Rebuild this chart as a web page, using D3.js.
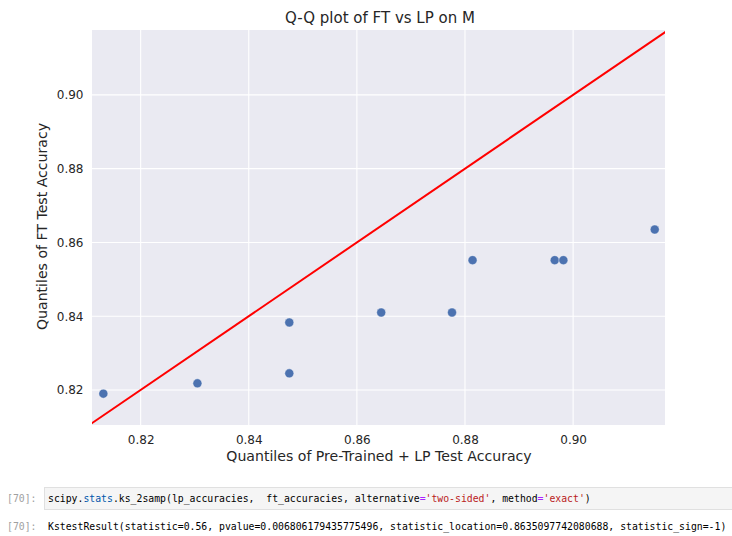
<!DOCTYPE html>
<html>
<head>
<meta charset="utf-8">
<script src="https://cdn.jsdelivr.net/npm/d3@7"></script>
<style>
  html, body { margin: 0; padding: 0; background: #fff; }
  svg { display: block; }
  text { white-space: pre; }
</style>
</head>
<body>
<svg id="chart" width="732" height="536"></svg>
<script>
// ---- data ----
const lpQuantiles = [0.8131, 0.8305, 0.8475, 0.8475, 0.8645, 0.8776, 0.8814, 0.8966, 0.8982, 0.9151];
const ftQuantiles = [0.8190, 0.8218, 0.8245, 0.8383, 0.8410, 0.8410, 0.8552, 0.8552, 0.8552, 0.8635];
const xTicks = [0.82, 0.84, 0.86, 0.88, 0.90];
const yTicks = [0.82, 0.84, 0.86, 0.88, 0.90];
const xDomain = [0.8110, 0.9170];
const yDomain = [0.8105, 0.9176];
const titleText = "Q-Q plot of FT vs LP on M";
const xLabel = "Quantiles of Pre-Trained + LP Test Accuracy";
const yLabel = "Quantiles of FT Test Accuracy";
const promptText = "[70]:";
const codeTokens = [
  ["scipy", "#000"], [".", "#000"], ["stats", "#0055aa"], [".ks_2samp(lp_accuracies,  ft_accuracies, alternative", "#000"],
  ["=", "#aa22ff"], ["'two-sided'", "#ba2121"], [", method", "#000"], ["=", "#aa22ff"], ["'exact'", "#ba2121"], [")", "#000"]
];
const outputText = "KstestResult(statistic=0.56, pvalue=0.006806179435775496, statistic_location=0.8635097742080688, statistic_sign=-1)";

// ---- layout ----
const svg = d3.select("#chart");
const L = 92, R = 665, T = 30, B = 425;
const x = d3.scaleLinear().domain(xDomain).range([L, R]);
const y = d3.scaleLinear().domain(yDomain).range([B, T]);
const font = "DejaVu Sans, sans-serif";
const textColor = "#262626";

svg.append("rect").attr("x", L).attr("y", T).attr("width", R - L).attr("height", B - T).attr("fill", "#eaeaf2");

// grid
svg.append("g").selectAll("line").data(xTicks).join("line")
  .attr("x1", d => x(d)).attr("x2", d => x(d)).attr("y1", T).attr("y2", B)
  .attr("stroke", "#fff").attr("stroke-width", 1.1);
svg.append("g").selectAll("line").data(yTicks).join("line")
  .attr("y1", d => y(d)).attr("y2", d => y(d)).attr("x1", L).attr("x2", R)
  .attr("stroke", "#fff").attr("stroke-width", 1.1);

// axes (labels only)
const xAxis = d3.axisBottom(x).tickValues(xTicks).tickFormat(d3.format(".2f")).tickSize(0).tickPadding(10);
const gx = svg.append("g").attr("transform", `translate(0,${B})`).call(xAxis);
gx.select(".domain").remove();
gx.selectAll("text").attr("font-family", font).attr("font-size", 12).attr("fill", textColor);

const yAxis = d3.axisLeft(y).tickValues(yTicks).tickFormat(d3.format(".2f")).tickSize(0).tickPadding(8.5);
const gy = svg.append("g").attr("transform", `translate(${L},0)`).call(yAxis);
gy.select(".domain").remove();
gy.selectAll("text").attr("font-family", font).attr("font-size", 12).attr("fill", textColor);

// clip
svg.append("clipPath").attr("id", "clip").append("rect")
  .attr("x", L).attr("y", T).attr("width", R - L).attr("height", B - T);

// 45-degree reference line
const lo = Math.min(xDomain[0], yDomain[0]), hi = Math.max(xDomain[1], yDomain[1]);
svg.append("line").attr("clip-path", "url(#clip)")
  .attr("x1", x(lo)).attr("y1", y(lo)).attr("x2", x(hi)).attr("y2", y(hi))
  .attr("stroke", "#ff0000").attr("stroke-width", 2);

// points
svg.append("g").selectAll("circle").data(lpQuantiles.map((v, i) => [v, ftQuantiles[i]])).join("circle")
  .attr("cx", d => x(d[0])).attr("cy", d => y(d[1])).attr("r", 4.5)
  .attr("fill", "#4c72b0").attr("stroke", "#fff").attr("stroke-width", 0.4);

// titles
svg.append("text").attr("x", 380).attr("y", 23).attr("text-anchor", "middle")
  .attr("font-family", font).attr("font-size", 15).attr("fill", textColor).text(titleText);
svg.append("text").attr("x", 379).attr("y", 461).attr("text-anchor", "middle")
  .attr("font-family", font).attr("font-size", 14.1).attr("fill", textColor).text(xLabel);
svg.append("text").attr("transform", `translate(47,226.5) rotate(-90)`).attr("text-anchor", "middle")
  .attr("font-family", font).attr("font-size", 14.1).attr("fill", textColor).text(yLabel);

// notebook cells
const mono = "DejaVu Sans Mono, Liberation Mono, monospace";
svg.append("rect").attr("x", 44.5).attr("y", 487.5).attr("width", 700).attr("height", 22)
  .attr("fill", "#f5f5f5").attr("stroke", "#e0e0e0");
svg.append("text").attr("x", 7).attr("y", 502).attr("font-family", mono).attr("font-size", 9.8)
  .attr("fill", "#a0a0a0").text(promptText);
const code = svg.append("text").attr("x", 48).attr("y", 502).attr("font-family", mono).attr("font-size", 9.8);
codeTokens.forEach(([t, c]) => code.append("tspan").attr("fill", c).text(t));
svg.append("text").attr("x", 7).attr("y", 530).attr("font-family", mono).attr("font-size", 9.8)
  .attr("fill", "#a0a0a0").text(promptText);
svg.append("text").attr("x", 48).attr("y", 530).attr("font-family", mono).attr("font-size", 9.8)
  .attr("fill", "#000").text(outputText);
</script>
</body>
</html>
